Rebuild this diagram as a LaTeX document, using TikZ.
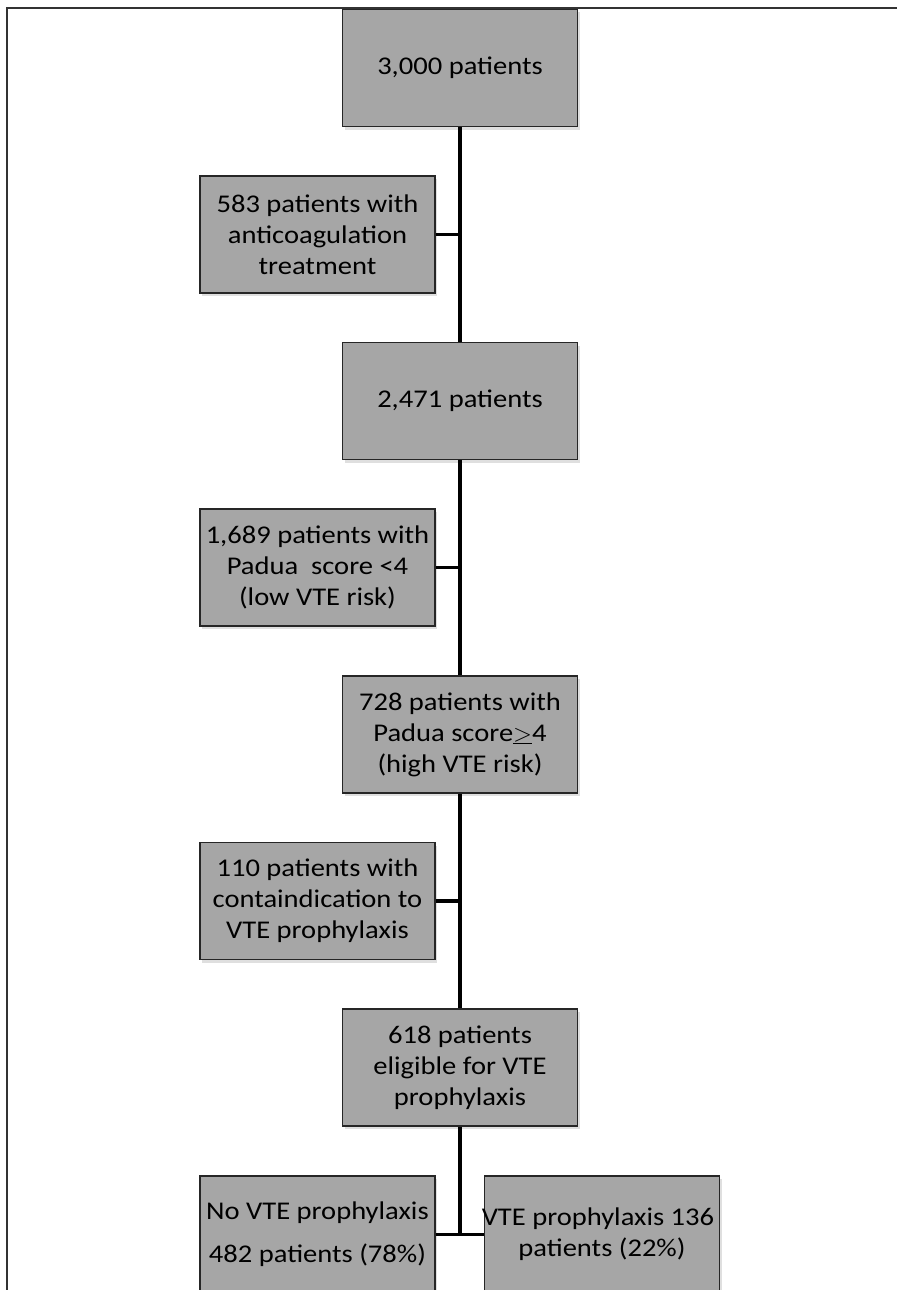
\documentclass[tikz,border=0pt]{standalone}
\usepackage{fontspec}
\setmainfont{Carlito}[FakeStretch=1.12]
\usetikzlibrary{shadows}
\begin{document}
\begin{tikzpicture}[x=1pt,y=-1pt]
		\tikzstyle{stagebox}=[draw=black!85, line width=1.8pt, fill=black!35, minimum width=235pt, minimum height=117pt, align=center, inner sep=0pt, font=\fontsize{25.5}{31}\selectfont, drop shadow={opacity=0.25, shadow xshift=2pt, shadow yshift=-3pt}]
		\tikzstyle{spine}=[line width=3.8pt]
		\useasboundingbox (0,0) rectangle (897,1290);
		\draw [black!80, line width=2pt] (7,1290) -- (7,8) -- (897,8);
		\node [stagebox] (all) at (460,68) {3,000 patients};
		\node [stagebox] (anticoag) at (317.5,234.5) {583 patients with\\anticoagulation\\treatment};
		\node [stagebox] (remain) at (460,401) {2,471 patients};
		\node [stagebox] (lowrisk) at (317.5,567.5) {1,689 patients with\\Padua\ \ score <4\\(low VTE risk)};
		\node [stagebox] (highrisk) at (460,734.5) {728 patients with\\Padua score$\underline{>}$4\\(high VTE risk)};
		\node [stagebox] (contra) at (317.5,901) {110 patients with\\containdication to\\VTE prophylaxis};
		\node [stagebox] (eligible) at (460,1067.5) {618 patients\\eligible for VTE\\prophylaxis};
		\node [stagebox] (noproph) at (317.5,1234.5) {No VTE prophylaxis\\[12pt]482 patients (78\%)};
		\node [stagebox] (proph) at (602,1234.5) {\makebox[200pt]{\hspace*{-8pt}VTE prophylaxis 136}\\patients (22\%)};
		\draw [spine] (all.south) -- (remain.north);
		\draw [spine] (anticoag.east) -- (anticoag.east -| all.south);
		\draw [spine] (remain.south) -- (highrisk.north);
		\draw [spine] (lowrisk.east) -- (lowrisk.east -| remain.south);
		\draw [spine] (highrisk.south) -- (eligible.north);
		\draw [spine] (contra.east) -- (contra.east -| highrisk.south);
		\draw [spine] (eligible.south) -- (eligible.south |- noproph.east);
		\draw [spine] (noproph.east) -- (proph.west);
	\end{tikzpicture}
\end{document}
